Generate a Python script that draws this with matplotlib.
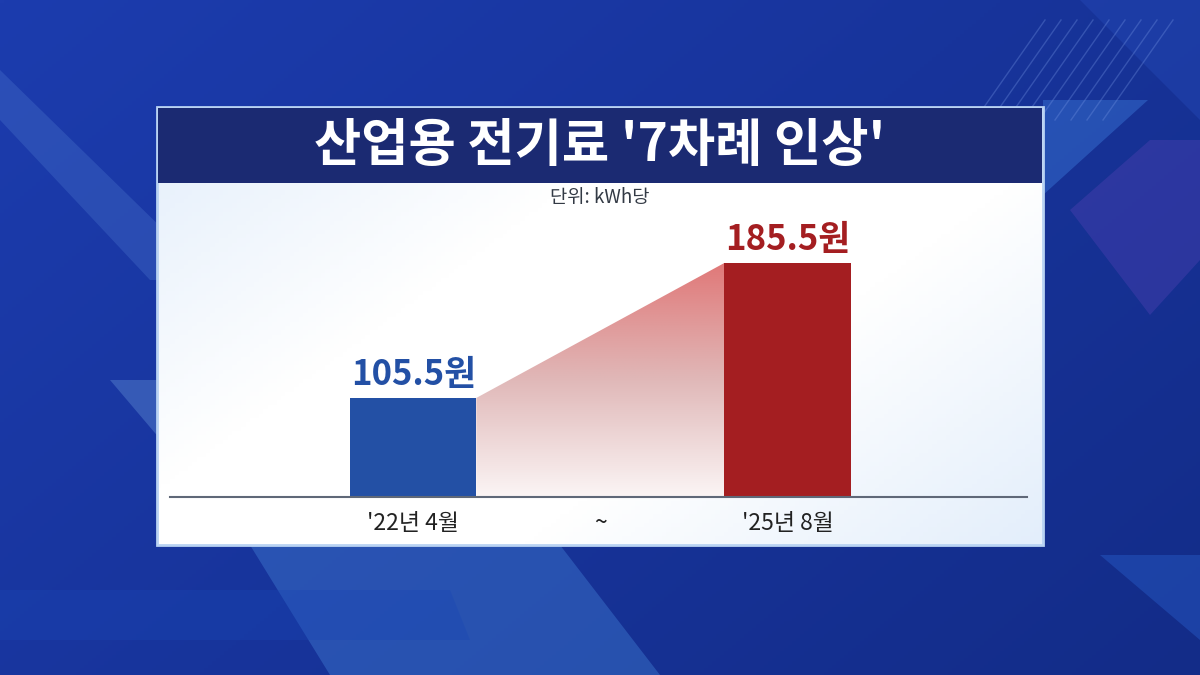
import numpy as np
import matplotlib
matplotlib.use("Agg")
import matplotlib.pyplot as plt
from matplotlib.patches import Rectangle, Polygon
from matplotlib.colors import LinearSegmentedColormap

plt.rcParams['font.family'] = ['Noto Sans CJK KR', 'DejaVu Sans']

# ---- data ----
title = "산업용 전기료 '7차례 인상'"
unit_note = "단위: kWh당"
categories = ["'22년 4월", "'25년 8월"]
values = [105.5, 185.5]
separator = "~"
value_labels = ["105.5원", "185.5원"]

bar_colors = ["#2350a5", "#a41e21"]

W, H = 1200, 675
fig = plt.figure(figsize=(12, 6.75), dpi=100)

# ---- background axes (pixel coords) ----
bg = fig.add_axes([0, 0, 1, 1])
bg.set_xlim(0, W)
bg.set_ylim(H, 0)
bg.axis('off')

# blue gradient background
yy, xx = np.mgrid[0:1:200j, 0:1:300j]
c_tl = np.array([0x1c, 0x3c, 0xae]) / 255
c_br = np.array([0x13, 0x2c, 0x88]) / 255
t = (0.6 * xx + 0.4 * yy)[..., None]
img = c_tl * (1 - t) + c_br * t
bg.imshow(img, extent=[0, W, H, 0], aspect='auto', zorder=0)

# decorative translucent shapes
shapes = [
    ([(0, 70), (0, 120), (150, 280), (215, 280)], "#4a74cc", 0.35),
    ([(110, 380), (160, 380), (300, 545), (250, 545)], "#5a86d0", 0.45),
    ([(250, 545), (560, 545), (660, 675), (330, 675)], "#3f7ad0", 0.45),
    ([(0, 590), (450, 590), (470, 640), (0, 640)], "#1846b5", 0.35),
    ([(1043, 100), (1148, 100), (1043, 195)], "#3b78d8", 0.45),
    ([(1070, 210), (1150, 140), (1200, 140), (1200, 260), (1150, 315)], "#4a3fb0", 0.45),
    ([(1080, 0), (1200, 0), (1200, 120)], "#2a4fc0", 0.35),
    ([(1100, 555), (1200, 555), (1200, 640)], "#2a62d0", 0.40),
]
for pts, col, a in shapes:
    bg.add_patch(Polygon(pts, closed=True, facecolor=col, edgecolor='none', alpha=a, zorder=1))
# faint diagonal line pattern upper right
for i in range(9):
    x0 = 975 + i * 16
    bg.plot([x0, x0 + 70], [120, 20], color="#7090e0", lw=1, alpha=0.35, zorder=1)

# ---- panel ----
px0, px1, py0, py1 = 157, 1043, 107, 545
gy, gx = np.mgrid[0:1:100j, 0:1:200j]
d = 0.6 * gx + 0.4 * gy
edge = np.clip((0.35 - d) / 0.35, 0, 1) * 0.8 + np.clip((d - 0.65) / 0.35, 0, 1) * 0.8
edge = np.clip(edge, 0, 1)[..., None]
white = np.array([1, 1, 1])
lblue = np.array([0xdc, 0xea, 0xfa]) / 255
pimg = white * (1 - edge) + lblue * edge
bg.imshow(pimg, extent=[px0, px1, py1, py0], aspect='auto', zorder=2)
bg.add_patch(Rectangle((px0, py0), px1 - px0, py1 - py0, facecolor='none',
                       edgecolor='#b9d3f3', lw=2, zorder=3))
# title bar
bg.add_patch(Rectangle((px0 + 1, py0 + 1), px1 - px0 - 2, 183 - py0 - 1,
                       facecolor='#1b2a72', edgecolor='none', zorder=3))
bg.text(600, 146, title, color='white', fontsize=37, fontweight='bold',
        ha='center', va='center', zorder=4)
bg.text(600, 198, unit_note, color='#333a45', fontsize=13.5,
        ha='center', va='center', zorder=4)
bg.set_xlim(0, W)
bg.set_ylim(H, 0)

# ---- data axes ----
ax_l, ax_r, ax_b, ax_t = 170, 1027, 497, 205
ax = fig.add_axes([ax_l / W, 1 - ax_b / H, (ax_r - ax_l) / W, (ax_b - ax_t) / H])
ax.patch.set_alpha(0)
ymin, ymax = 46.8, 46.8 + (ax_b - ax_t) / 1.6875
pos = [0, 2]
bw = 0.674
ax.bar(pos, values, width=bw, color=bar_colors, bottom=0, zorder=3)

# gradient connector polygon
x_a = pos[0] + bw / 2
x_b = pos[1] - bw / 2
poly = Polygon([(x_a, values[0]), (x_b, values[1]), (x_b, ymin), (x_a, ymin)],
               closed=True, facecolor='none', edgecolor='none')
ax.add_patch(poly)
cmap = LinearSegmentedColormap.from_list('g', ['#fbf5f5', '#e0b8b8', '#e07878'])
grad = np.linspace(0, 1, 256).reshape(-1, 1)
im = ax.imshow(grad, cmap=cmap, extent=[x_a, x_b, ymin, values[1]],
               origin='lower', aspect='auto', zorder=2)
im.set_clip_path(poly)

for p, v, lab, c in zip(pos, values, value_labels, bar_colors):
    ax.text(p, v + 3.5, lab, color=c, fontsize=25, fontweight='heavy',
            ha='center', va='bottom', zorder=4)

ax.set_xlim(-1.3, 3.28)
ax.set_ylim(ymin, ymax)
ax.set_xticks([pos[0], 1, pos[1]])
ax.set_xticklabels([categories[0], separator, categories[1]], fontsize=16.5, color='#222222')
ax.tick_params(axis='x', length=0, pad=11)
ax.set_yticks([])
for s in ['top', 'right', 'left']:
    ax.spines[s].set_visible(False)
ax.spines['bottom'].set_color('#5f6878')
ax.spines['bottom'].set_linewidth(1.5)
ax.spines['bottom'].set_zorder(5)

fig.savefig("out.png", dpi=100)
